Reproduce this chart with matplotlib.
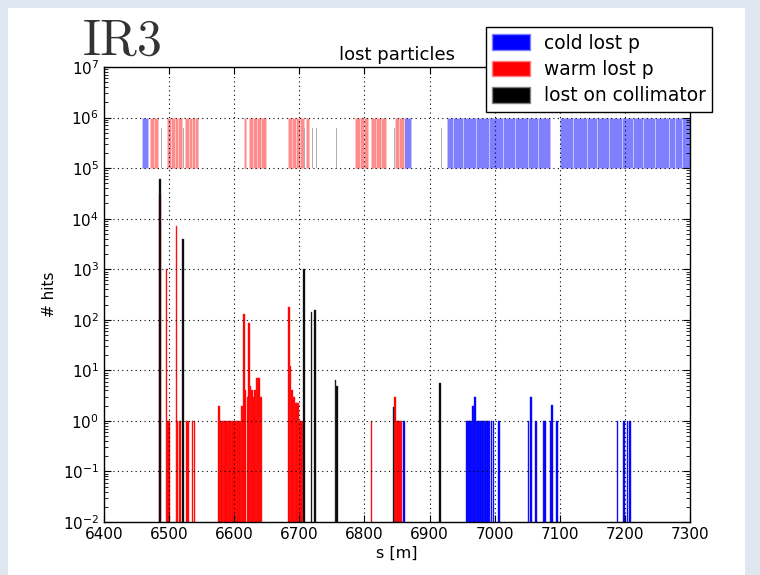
import matplotlib
matplotlib.use("Agg")
import matplotlib.pyplot as plt
from matplotlib.patches import Rectangle, Patch
from matplotlib.ticker import LogLocator

# ---------------- data ----------------
# element layout band (start s [m], length [m])
cold_elem_start = [6459, 6861, 6927.4, 6935.6, 6951, 6971.4, 6991.9, 7012.4, 7031.3, 7051.8,
                   7066.2, 7100.5, 7121, 7141.5, 7157.8, 7176.3, 7195.2, 7213.1, 7228.5,
                   7246.4, 7268.4, 7277.1, 7288.4]
cold_elem_len = [9, 11, 8.2, 15.4, 20.4, 20.5, 20.5, 18.9, 20.5, 14.4,
                 18.9, 20.5, 20.5, 16.3, 18.5, 18.9, 17.9, 15.4, 17.9,
                 22, 8.7, 11.3, 11.6]
warm_elem_start = [6471, 6477, 6497, 6503, 6509, 6514, 6524.4, 6530, 6535, 6540,
                   6615, 6623, 6629, 6635, 6641, 6683, 6689, 6695, 6701, 6711,
                   6785.6, 6792.5, 6799, 6810, 6817.5, 6825, 6847, 6853.5]
warm_elem_len = [6, 6.5, 6, 6, 5, 5.5, 5.6, 5, 5, 5,
                 3, 6, 6, 6, 8, 6, 6, 6, 6, 4,
                 6.9, 6.5, 7, 7.5, 7.5, 8, 6.5, 6.5]
coll_elem_start = [6487, 6520.8, 6707.7, 6720, 6725.6, 6757, 6845, 6917]
coll_elem_len = [1.5, 1.5, 1.5, 1.5, 1.5, 1.5, 1.5, 1.5]

# hits histograms (s [m], # hits)
cold_s = [6861, 6957, 6959.5, 6962, 6964, 6966.5, 6968.5, 6970, 6972, 6974.5, 6977, 6979.5,
          6982, 6984.5, 6987, 6989.5, 6992, 6995, 6998, 7007, 7052, 7056, 7063.5, 7075,
          7077.5, 7086.5, 7088.5, 7095.5, 7188.5, 7199, 7204, 7208]
cold_hits = [1, 1, 1, 1, 1, 2, 1, 3, 1, 1, 1, 1,
             1, 1, 1, 1, 1, 1, 1, 1, 1, 3, 1, 1,
             1, 1, 2.1, 1, 1, 1, 1, 1]
warm_s = [6486, 6496, 6498, 6500, 6511.5, 6513, 6516.5, 6528, 6530, 6536, 6539, 6576.5,
          6579, 6581, 6583.5, 6586, 6588.5, 6591, 6593.5, 6596, 6598.5, 6601, 6603.5, 6606,
          6608.5, 6611, 6613, 6614.5, 6617, 6621, 6623, 6625, 6627.5, 6630, 6632, 6634,
          6636.5, 6638, 6640, 6642, 6684.5, 6686.5, 6688.5, 6690.5, 6692.5, 6694.5, 6696.5,
          6698.5, 6701, 6703, 6705, 6811, 6847, 6849.5, 6852, 6854.5, 6857]
warm_hits = [3e4, 1000, 1, 1, 7000, 1, 1, 1, 1, 1, 1, 2,
             1, 1, 1, 1, 1, 1, 1, 1, 1, 1, 1, 1,
             1, 2, 2, 130, 4, 3, 85, 5, 4, 3, 4, 7,
             7, 7, 3, 3, 180, 12, 4, 3, 3, 2.3, 2.3,
             2.3, 1, 1, 1, 1, 3, 1, 1, 1, 1]
coll_s = [6486, 6521, 6707.5, 6718.5, 6724.5, 6755.5, 6757.5, 6844.5, 6916]
coll_hits = [6e4, 4000, 1000, 140, 155, 6.5, 5, 1.85, 5.7]

# ---------------- figure ----------------
fig = plt.figure(figsize=(7.6, 5.75), dpi=100)
fig.patch.set_facecolor('#dfe7f1')
fig.patches.append(Rectangle((8 / 760, 0), (745 - 8) / 760, 1 - 8 / 575,
                             transform=fig.transFigure, facecolor='white',
                             edgecolor='none', zorder=-5))

ax = fig.add_axes([104 / 760, 1 - 522 / 575, (690 - 104) / 760, (522 - 67) / 575])
ax.set_zorder(1)
ax.set_yscale('log')
ax.set_xlim(6400, 7300)
ax.set_ylim(1e-2, 1e7)

band_lo, band_hi = 1e5, 1e6
ax.bar(cold_elem_start, [band_hi - band_lo] * len(cold_elem_start), width=cold_elem_len,
       bottom=band_lo, align='edge', color='#8080ff', edgecolor='#c4c4ff', linewidth=0.7)
ax.bar(warm_elem_start, [band_hi - band_lo] * len(warm_elem_start), width=warm_elem_len,
       bottom=band_lo, align='edge', color='#ff8c8c', edgecolor='#ffc4c4', linewidth=0.7)
ax.bar(coll_elem_start, [6.3e5 - band_lo] * len(coll_elem_start), width=coll_elem_len,
       bottom=band_lo, align='edge', color='#b0b0b0', edgecolor='none')

base = 1e-3
bw = 2.6
ax.bar(warm_s, warm_hits, width=bw, bottom=base, color='#ff0000',
       edgecolor='#ff2020', linewidth=0.3)
ax.bar(cold_s, cold_hits, width=bw, bottom=base, color='#0000ff',
       edgecolor='#2020ff', linewidth=0.3)
ax.bar(coll_s, coll_hits, width=bw, bottom=base, color='#000000',
       edgecolor='#404040', linewidth=0.3)

ax.set_axisbelow(False)
ax.grid(True, which='major', linestyle=(0, (1, 3)), color='k', linewidth=0.8)
ax.yaxis.set_major_locator(LogLocator(base=10, numticks=12))
ax.yaxis.set_minor_locator(LogLocator(base=10, subs=range(2, 10), numticks=12))
ax.set_xticks(range(6400, 7301, 100))
ax.tick_params(which='both', direction='in', top=True, right=True, labelsize=11)
ax.tick_params(which='major', length=5)
ax.tick_params(which='minor', length=3)
for s in ax.spines.values():
    s.set_linewidth(1.0)

ax.set_xlabel('s [m]', fontsize=11.5, labelpad=3)
ax.set_ylabel('# hits', fontsize=11)
ax.set_title('lost particles', fontsize=13, pad=5)

handles = [Patch(facecolor='#0000ff', edgecolor='#8080ff'),
           Patch(facecolor='#ff0000', edgecolor='#ff8080'),
           Patch(facecolor='#000000', edgecolor='#808080')]
leg = fig.legend(handles, ['cold lost p', 'warm lost p', 'lost on collimator'],
                 loc='upper right', bbox_to_anchor=(712 / 760, 1 - 27 / 575),
                 bbox_transform=fig.transFigure, borderaxespad=0, fontsize=13.4,
                 fancybox=False, framealpha=1, edgecolor='black',
                 handlelength=2.0, handleheight=0.9, handletextpad=0.75,
                 labelspacing=0.4, borderpad=0.35)
leg.set_zorder(10)
leg.get_frame().set_linewidth(1.0)

fig.text(83 / 760, 1 - 55 / 575, 'IR3', fontfamily='cmr10', fontsize=36,
         color='#333333', ha='left', va='baseline')

fig.savefig('out.png', dpi=100, facecolor=fig.get_facecolor())
